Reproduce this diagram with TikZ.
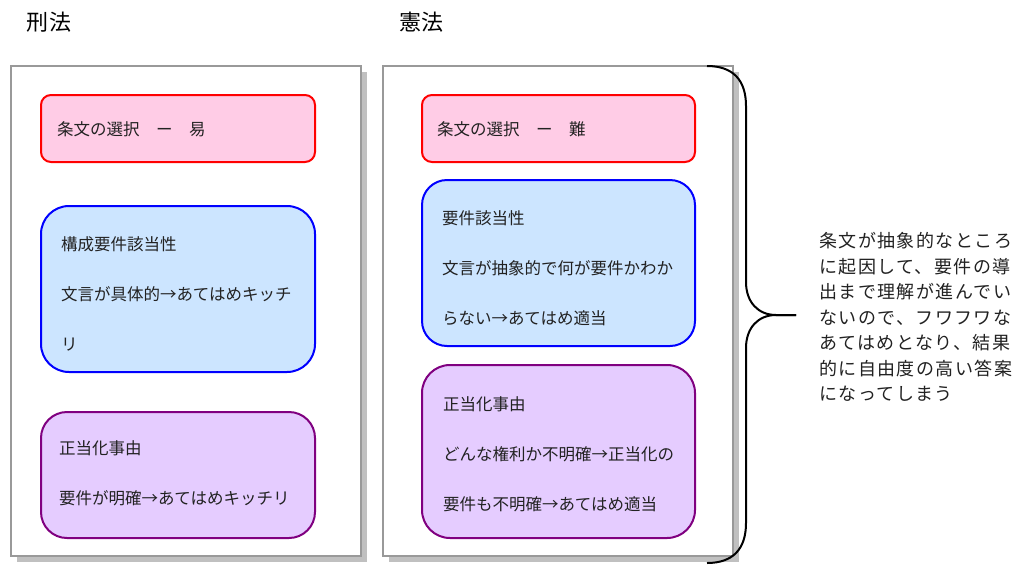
\documentclass[tikz,border=0pt]{standalone}
\usepackage{fontspec}
\newfontfamily\jp{Noto Sans CJK JP}
\newfontfamily\jpsp[LetterSpace=8]{Noto Sans CJK JP}
\definecolor{pinkfill}{HTML}{FFCCE6}
\definecolor{bluefill}{HTML}{CCE5FF}
\definecolor{purplefill}{HTML}{E5CCFF}
\definecolor{purpleline}{HTML}{800080}
\definecolor{panelline}{HTML}{999999}
\definecolor{shadowgray}{HTML}{C0C0C0}
\definecolor{txt}{HTML}{222222}
\tikzset{
  panel/.style={draw=panelline, line width=1.5pt, fill=white, minimum width=350pt, minimum height=490pt, inner sep=0pt},
  shadowbox/.style={fill=shadowgray, minimum width=350pt, minimum height=490pt, inner sep=0pt},
  boxbase/.style={line width=2pt, minimum width=274pt, inner sep=0pt},
  pinkbox/.style={boxbase, draw=red, fill=pinkfill, rounded corners=10pt},
  bluebox/.style={boxbase, draw=blue, fill=bluefill, rounded corners=28pt},
  purplebox/.style={boxbase, draw=purpleline, fill=purplefill, rounded corners=26pt},
  boxtext/.style={anchor=west, align=left, inner sep=0pt, text=txt,
    font=\jp\fontsize{16.5pt}{50pt}\selectfont},
  title/.style={inner sep=0pt, text=black, font=\jp\fontsize{22pt}{26pt}\selectfont},
  note/.style={anchor=west, align=left, inner sep=0pt, text=txt,
    font=\jpsp\fontsize{18pt}{25.5pt}\selectfont},
  brace/.style={draw=black, line width=2pt}
}
\begin{document}
\begin{tikzpicture}[x=1pt,y=-1pt]
\useasboundingbox (0,0) rectangle (1024,576);
\fill[white] (0,0) rectangle (1024,576);
% titles
\node[title] (t1) at (49,22) {刑法};
\node[title] (t2) at (421,22) {憲法};
% panels
\node[shadowbox] (ls) at (192,317) {};
\node[panel] (lpanel) at (186,311) {};
\node[shadowbox] (rs) at (564,317) {};
\node[panel] (rpanel) at (558,311) {};
% left boxes
\node[pinkbox, minimum height=67pt] (lpink) at (178,128.5) {};
\node[boxtext] (lpinkt) at (57,129) {条文の選択　ー　易};
\node[bluebox, minimum height=166pt] (lblue) at (178,289) {};
\node[boxtext] (lbluet) at (61,294) {構成要件該当性\\文言が具体的→あてはめキッチ\\リ};
\node[purplebox, minimum height=126pt] (lpur) at (178,475) {};
\node[boxtext] (lpurt) at (59,473) {正当化事由\\要件が明確→あてはめキッチリ};
% right boxes
\node[pinkbox, minimum width=273pt, minimum height=67pt] (rpink) at (558.5,128.5) {};
\node[boxtext] (rpinkt) at (437,129) {条文の選択　ー　難};
\node[bluebox, minimum width=273pt, minimum height=166pt, rounded corners=25pt] (rblue) at (558.5,263) {};
\node[boxtext] (rbluet) at (442,268.5) {要件該当性\\文言が抽象的で何が要件かわか\\らない→あてはめ適当};
\node[purplebox, minimum width=273pt, minimum height=173pt, rounded corners=28pt] (rpur) at (558.5,451.5) {};
\node[boxtext] (rpurt) at (443,454) {正当化事由\\どんな権利か不明確→正当化の\\要件も不明確→あてはめ適当};
% brace
\coordinate (btop) at (707,66);
\coordinate (bbot) at (707,563);
\coordinate (btip) at (796,315);
\draw[brace] (btop) .. controls (733,66) and (746,80) .. (746,106) -- (746,282)
  .. controls (746,302) and (758,315) .. (776,315) -- (btip);
\draw[brace] (btip) -- (776,315) .. controls (758,315) and (746,328) .. (746,348) -- (746,523)
  .. controls (746,549) and (733,563) .. (bbot);
% note
\node[note] (note) at (819,317) {条文が抽象的なところ\\に起因して、要件の導\\出まで理解が進んでい\\ないので、フワフワな\\あてはめとなり、結果\\的に自由度の高い答案\\になってしまう};
\end{tikzpicture}
\end{document}
